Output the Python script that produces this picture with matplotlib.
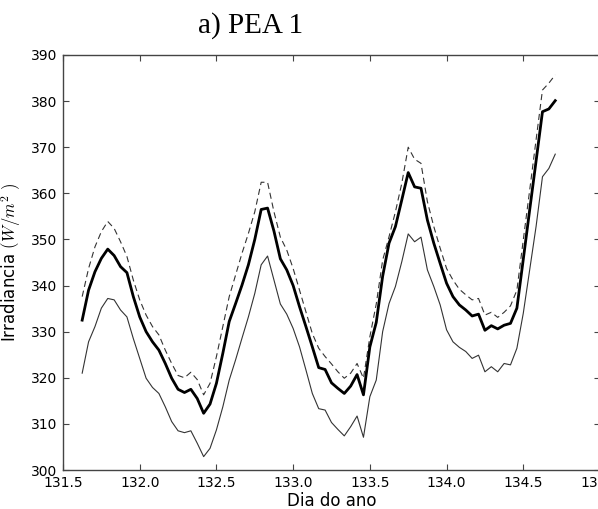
import numpy as np
import matplotlib
matplotlib.use("Agg")
import matplotlib.pyplot as plt

plt.rcParams["mathtext.fontset"] = "cm"

# Hourly samples starting at day 131 + 15/24
t_start = 131.0 + 15.0 / 24.0
n_hours = 75

mean_vals = [332.5, 339.0, 343.0, 345.9, 347.9, 346.5, 344.1, 342.8, 337.6, 333.2,
             330.0, 327.8, 326.0, 323.1, 319.9, 317.5, 316.8, 317.5, 315.5, 312.3,
             314.3, 318.8, 325.3, 332.2, 336.1, 340.1, 344.5, 350.0, 356.5, 356.8,
             351.8, 345.8, 343.4, 340.0, 335.4, 331.1, 326.7, 322.2, 321.8, 318.9,
             317.7, 316.6, 318.2, 320.7, 316.3, 326.7, 332.0, 342.0, 349.2, 352.8,
             358.6, 364.5, 361.4, 361.1, 354.2, 349.2, 344.8, 340.5, 337.6, 335.8,
             334.7, 333.4, 333.8, 330.3, 331.3, 330.6, 331.4, 331.8, 335.1, 345.7,
             356.4, 367.0, 377.7, 378.3, 380.1]

min_vals = [321.0, 327.8, 331.1, 335.1, 337.2, 336.9, 334.7, 333.2, 328.5, 324.2,
            319.9, 317.9, 316.6, 313.7, 310.5, 308.5, 308.1, 308.5, 305.8, 302.9,
            304.7, 308.7, 313.7, 319.5, 323.9, 328.6, 333.2, 338.3, 344.5, 346.4,
            341.2, 336.0, 333.8, 330.7, 326.7, 321.7, 316.6, 313.3, 313.0, 310.3,
            308.8, 307.4, 309.4, 311.7, 307.1, 315.9, 319.5, 330.0, 336.1, 339.8,
            345.2, 351.2, 349.5, 350.5, 343.4, 339.8, 335.8, 330.4, 327.8, 326.6,
            325.7, 324.2, 324.9, 321.3, 322.4, 321.3, 323.1, 322.8, 326.4, 334.0,
            343.4, 352.8, 363.6, 365.4, 368.5]

max_vals = [337.6, 343.7, 348.4, 351.7, 353.9, 352.4, 349.5, 346.3, 341.2, 336.9,
            333.6, 331.1, 329.3, 326.0, 323.1, 320.5, 320.0, 321.2, 319.6, 316.3,
            318.8, 324.6, 331.1, 337.6, 342.3, 347.0, 351.3, 356.0, 362.4, 362.4,
            356.0, 350.5, 347.7, 343.7, 339.0, 334.3, 329.6, 326.4, 324.6, 323.0,
            321.3, 319.9, 321.0, 323.1, 319.9, 328.9, 336.0, 345.5, 350.6, 356.0,
            362.2, 370.0, 367.4, 366.5, 358.2, 352.8, 348.1, 343.7, 341.2, 339.2,
            338.0, 336.9, 337.2, 333.6, 334.2, 333.1, 334.2, 335.6, 339.0, 349.9,
            360.7, 371.6, 382.4, 383.9, 385.7]

x_ticks = [131.5, 132.0, 132.5, 133.0, 133.5, 134.0, 134.5, 135.0]
y_ticks = [300, 310, 320, 330, 340, 350, 360, 370, 380, 390]

title_text = "a) PEA 1"
x_label = "Dia do ano"
y_label = r"Irradiancia $(W/m^2\ )$"

t = t_start + np.arange(n_hours) / 24.0

W, H = 598, 509
fig = plt.figure(figsize=(W / 100, H / 100), dpi=100)
ax = fig.add_axes([63 / W, 1 - 470 / H, (600 - 63) / W, (470 - 55) / H])

ax.plot(t, max_vals, color="#333333", lw=0.8, dashes=(5.5, 3.5))
ax.plot(t, mean_vals, color="black", lw=2.0)
ax.plot(t, min_vals, color="#333333", lw=0.8)

ax.set_xlim(131.5, 135.0)
ax.set_ylim(300, 390)
ax.set_xticks(x_ticks)
ax.set_xticklabels([f"{v:.1f}" for v in x_ticks])
ax.set_yticks(y_ticks)
ax.set_yticklabels([str(v) for v in y_ticks])
ax.tick_params(direction="in", top=True, right=True, length=4, width=0.8,
               labelsize=10, pad=4, color="#444444")
for s in ax.spines.values():
    s.set_linewidth(1.0)
    s.set_color("#444444")

ax.set_xlabel(x_label, fontsize=12, labelpad=2)
ax.set_ylabel(y_label, fontsize=12, labelpad=6)

fig.text(251 / W, 1 - 26 / H, title_text, ha="center", va="center",
         fontsize=21, family="Liberation Serif")

fig.savefig("out.png", dpi=100)
